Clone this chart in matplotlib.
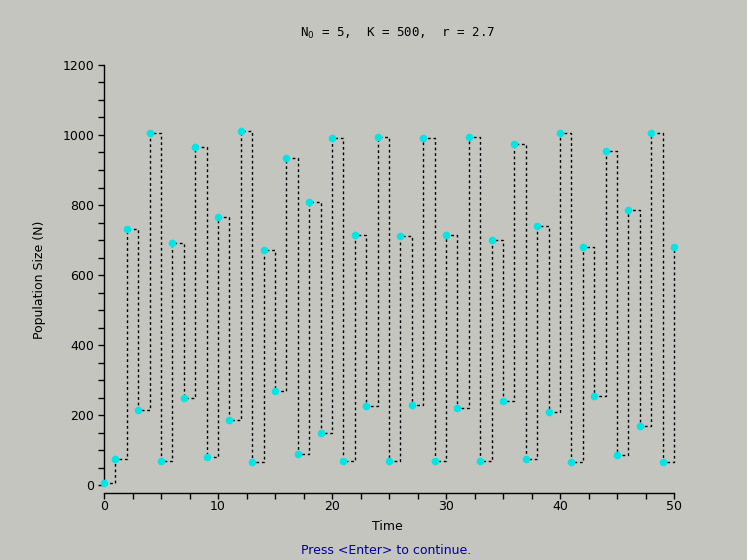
import matplotlib
matplotlib.use("Agg")
import matplotlib.pyplot as plt
from matplotlib.ticker import MultipleLocator

time = list(range(51))
population = [5, 75, 730, 215, 1005, 70, 690, 250, 965, 80,
              765, 185, 1010, 65, 670, 270, 935, 90, 810, 150,
              990, 70, 715, 225, 995, 70, 710, 230, 990, 70,
              715, 220, 995, 70, 700, 240, 975, 75, 740, 210,
              1005, 65, 680, 255, 955, 85, 785, 170, 1005, 65,
              680]
title = r"N$_0$ = 5,  K = 500,  r = 2.7"
xlabel = "Time"
ylabel = "Population Size (N)"
footer = "Press <Enter> to continue."

bg = "#c5c5c0"
fig = plt.figure(figsize=(7.47, 5.6), dpi=100, facecolor=bg)
ax = fig.add_axes([104/747, 75/560, 570/747, 420/560], facecolor=bg)

ax.step(time, population, where="post", color="black", lw=1.0,
        linestyle=(0, (2, 2)), zorder=2, clip_on=False)
ax.plot(time, population, "o", color="#00e6e6", markersize=5.5,
        markeredgewidth=0, zorder=3, clip_on=False)

ax.set_xlim(0, 50)
ax.set_ylim(0, 1200)
ax.xaxis.set_major_locator(MultipleLocator(10))
ax.xaxis.set_minor_locator(MultipleLocator(2.5))
ax.yaxis.set_major_locator(MultipleLocator(200))
ax.yaxis.set_minor_locator(MultipleLocator(50))

for s in ("top", "right"):
    ax.spines[s].set_visible(False)
ax.spines["bottom"].set_position(("outward", 6))
for s in ("left", "bottom"):
    ax.spines[s].set_linewidth(1.0)
    ax.spines[s].set_color("black")

ax.tick_params(which="both", direction="out", length=4, width=1,
               colors="black", labelsize=9)
ax.tick_params(axis="x", pad=1)
ax.tick_params(axis="y", pad=3)

fig.text(39/747, 1 - 280/560, ylabel, ha="center", va="center",
         rotation=90, fontsize=9)
fig.text(387/747, 1 - 526/560, xlabel, ha="center", va="center", fontsize=9)
fig.text(398/747, 1 - 33/560, title, ha="center", va="center", fontsize=9,
         family="DejaVu Sans Mono")
fig.text(386/747, 1 - 551/560, footer, ha="center", va="center",
         fontsize=9, color="#0000a0")

fig.savefig("out.png", dpi=100, facecolor=bg)
